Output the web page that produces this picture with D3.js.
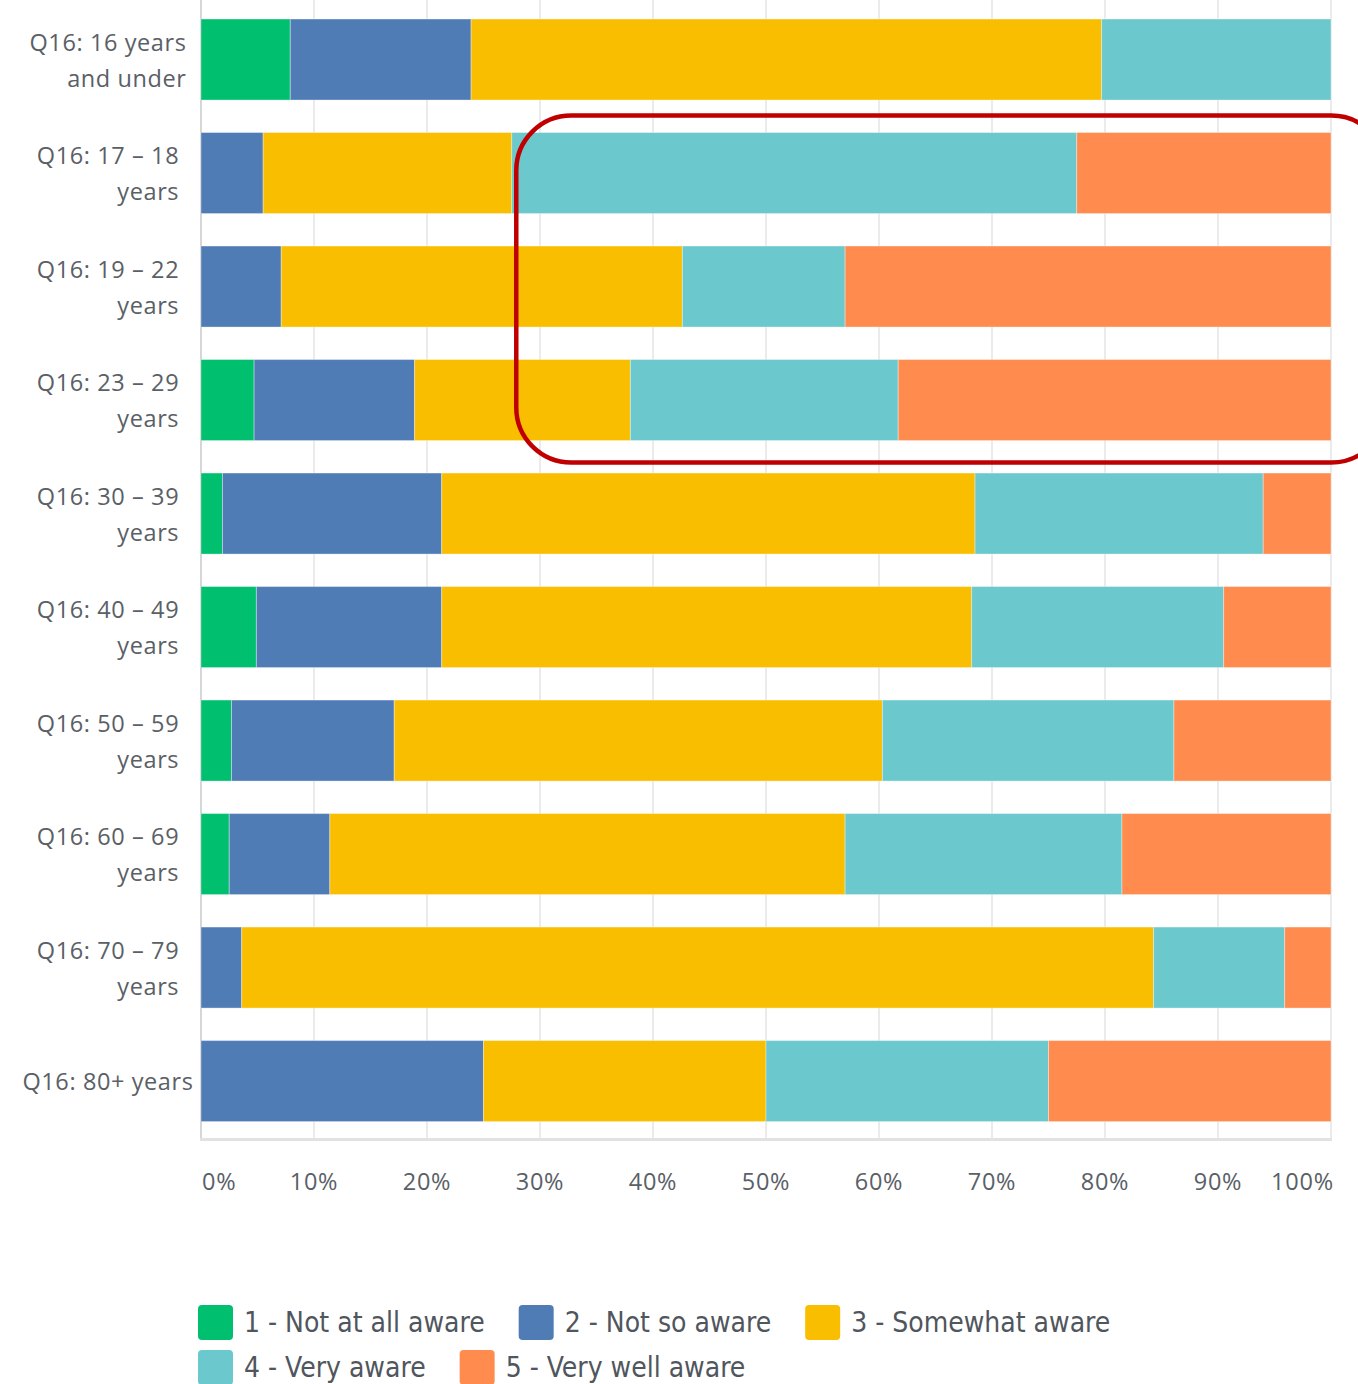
<!DOCTYPE html>
<html>
<head>
<meta charset="utf-8">
<script src="https://cdn.jsdelivr.net/npm/d3@7"></script>
<style>
  html, body { margin: 0; padding: 0; background: #fff; }
  svg { display: block; }
</style>
</head>
<body>
<svg id="chart" width="1358" height="1384"></svg>
<script>
const categories = [
  ["Q16: 16 years", "and under"],
  ["Q16: 17 – 18", "years"],
  ["Q16: 19 – 22", "years"],
  ["Q16: 23 – 29", "years"],
  ["Q16: 30 – 39", "years"],
  ["Q16: 40 – 49", "years"],
  ["Q16: 50 – 59", "years"],
  ["Q16: 60 – 69", "years"],
  ["Q16: 70 – 79", "years"],
  ["Q16: 80+ years"]
];
const seriesNames = ["1 - Not at all aware", "2 - Not so aware", "3 - Somewhat aware", "4 - Very aware", "5 - Very well aware"];
const notAtAll   = [7.9, 0,    0,    4.7,  1.9,  4.9,  2.7,  2.5,  0,    0];
const notSo      = [16.0, 5.5, 7.1,  14.2, 19.4, 16.4, 14.4, 8.9,  3.6,  25];
const somewhat   = [55.8, 22.0, 35.5, 19.1, 47.2, 46.9, 43.2, 45.6, 80.7, 25];
const very       = [20.3, 50.0, 14.4, 23.7, 25.5, 22.3, 25.8, 24.5, 11.6, 25];
const veryWell   = [0,    22.5, 43.0, 38.3, 6.0,  9.5,  13.9, 18.5, 4.1,  25];
const colors = ["#00bf6f", "#507cb6", "#f9be00", "#6bc8cd", "#ff8b4f"];
const tickValues = [0, 10, 20, 30, 40, 50, 60, 70, 80, 90, 100];
const tickLabels = ["0%", "10%", "20%", "30%", "40%", "50%", "60%", "70%", "80%", "90%", "100%"];

(function () {
const svg = d3.select("#chart");
const pLeft = 201, pRight = 1331, pTop = 2, pBottom = 1138.6;
const x = d3.scaleLinear().domain([0, 100]).range([pLeft, pRight]);
const y = d3.scaleBand().domain(d3.range(categories.length)).range([pTop, pBottom])
  .paddingInner(0.2863).paddingOuter(0.15);

const seriesData = [notAtAll, notSo, somewhat, very, veryWell];
const rows = categories.map((c, i) => {
  const o = { idx: i };
  seriesData.forEach((s, k) => o["s" + k] = s[i]);
  return o;
});
const stack = d3.stack().keys(seriesData.map((s, k) => "s" + k))(rows);

// gridlines
svg.append("g").selectAll("line").data(tickValues.slice(1)).join("line")
  .attr("x1", d => x(d)).attr("x2", d => x(d))
  .attr("y1", 0).attr("y2", pBottom)
  .attr("stroke", "#ebebeb").attr("stroke-width", 2);

// axis lines
svg.append("line").attr("x1", pLeft).attr("x2", pLeft).attr("y1", 0).attr("y2", pBottom)
  .attr("stroke", "#d6d6d6").attr("stroke-width", 2);
svg.append("line").attr("x1", pLeft - 1).attr("x2", pRight + 1).attr("y1", pBottom + 1).attr("y2", pBottom + 1)
  .attr("stroke", "#e2e2e2").attr("stroke-width", 3);

// bars
svg.append("g").selectAll("g").data(stack).join("g")
  .attr("fill", (d, k) => colors[k])
  .selectAll("rect").data(d => d).join("rect")
  .attr("x", d => x(d[0]))
  .attr("width", d => Math.max(0, x(d[1]) - x(d[0])))
  .attr("y", d => y(d.data.idx))
  .attr("height", y.bandwidth())
  .attr("stroke", "rgba(255,255,255,0.35)").attr("stroke-width", 1);

// x tick labels
svg.append("g").selectAll("text").data(tickValues).join("text")
  .attr("x", (d, i) => i === 0 ? x(d) + 1 : (i === tickValues.length - 1 ? x(d) + 3 : x(d)))
  .attr("y", 1190)
  .attr("text-anchor", (d, i) => i === 0 ? "start" : (i === tickValues.length - 1 ? "end" : "middle"))
  .attr("font-family", "'Open Sans', sans-serif").attr("font-size", 23.5)
  .attr("letter-spacing", 0.8)
  .attr("fill", "#5a6066")
  .text((d, i) => tickLabels[i]);

// y labels
const labelCenter = 108, lineH = 36;
categories.forEach((lines, i) => {
  const g = svg.append("g");
  const cy = y(i) + y.bandwidth() / 2;
  const texts = lines.map((t, j) => g.append("text")
    .attr("font-family", "'Open Sans', sans-serif").attr("font-size", 23.5)
    .attr("letter-spacing", 0.6)
    .attr("fill", "#5a6066").attr("text-anchor", "end")
    .attr("y", cy + (j - (lines.length - 1) / 2) * lineH + 9)
    .text(t));
  const w = d3.max(texts, t => t.node().getComputedTextLength());
  texts.forEach(t => t.attr("x", labelCenter + w / 2));
});

// legend
const legendFont = "'Liberation Sans Narrow', 'DejaVu Sans Condensed', sans-serif";
const legendRows = [[0, 1, 2], [3, 4]];
legendRows.forEach((row, r) => {
  let cx = 198;
  const cy = 1322 + r * 45;
  row.forEach(k => {
    svg.append("rect").attr("x", cx).attr("y", cy - 17).attr("width", 35).attr("height", 35)
      .attr("rx", 4).attr("fill", colors[k]);
    const t = svg.append("text").attr("x", cx + 46).attr("y", cy + 10)
      .attr("font-family", legendFont).attr("font-size", 28).attr("fill", "#50565d")
      .text(seriesNames[k]);
    cx += 46 + t.node().getComputedTextLength() + 34;
  });
});

// annotation (red rounded rectangle)
svg.append("rect")
  .attr("x", x(27.9)).attr("y", y(1) - 17)
  .attr("width", 870).attr("height", y(3) + y.bandwidth() + 22 - (y(1) - 17))
  .attr("rx", 55).attr("ry", 55)
  .attr("fill", "none").attr("stroke", "#c00000").attr("stroke-width", 4.5);
})();
</script>
</body>
</html>
